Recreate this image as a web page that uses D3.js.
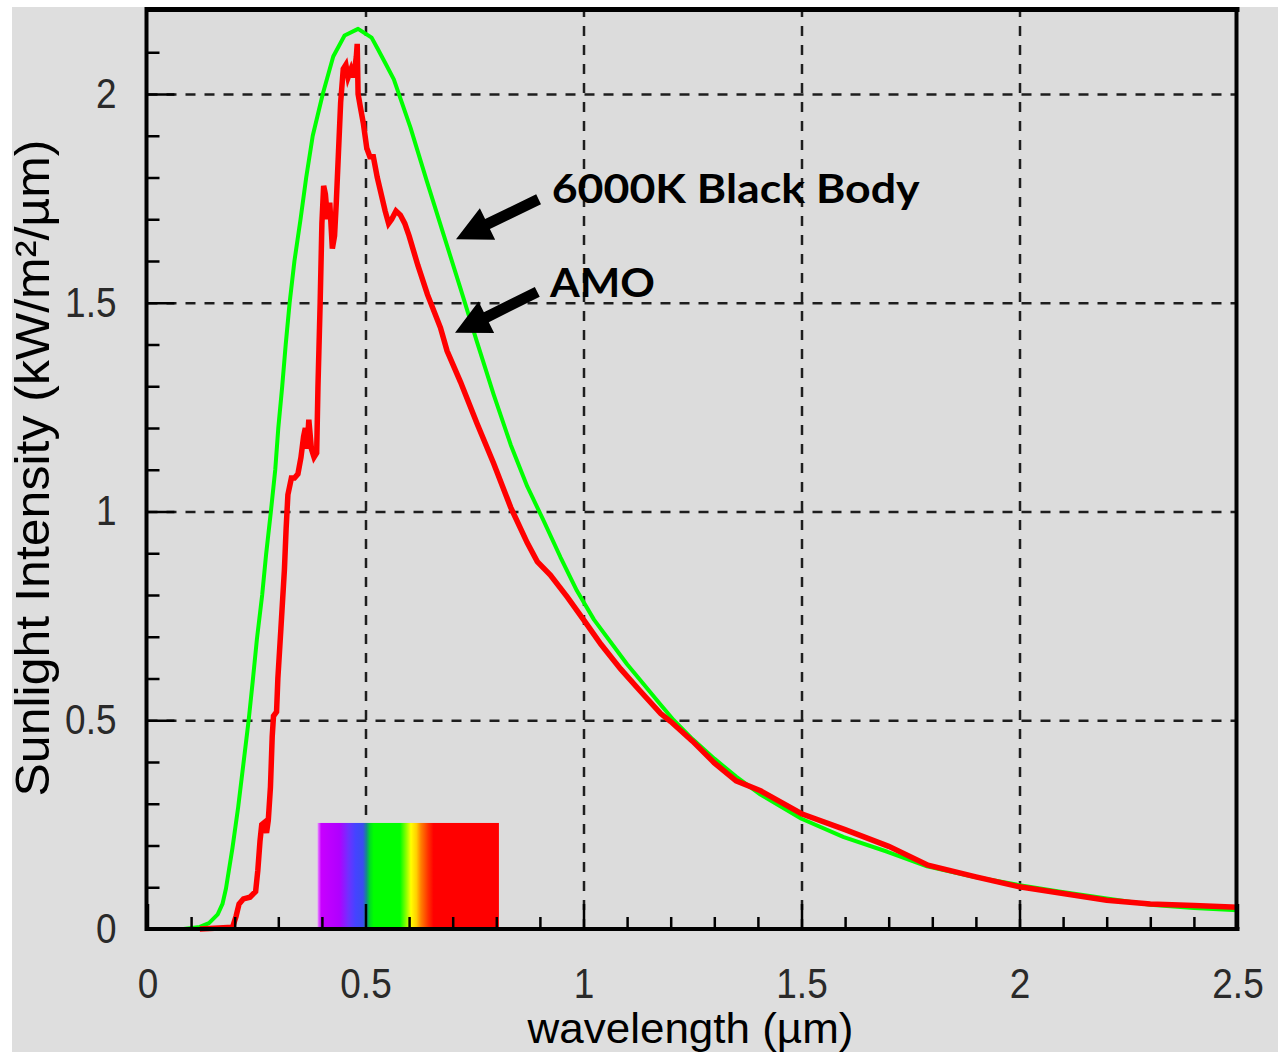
<!DOCTYPE html>
<html><head><meta charset="utf-8">
<script src="https://cdn.jsdelivr.net/npm/d3@7"></script>
<style>body{margin:0;background:#fff;} svg{display:block}</style>
</head><body><svg id="chart" width="1278" height="1052"></svg>
<script>
// ---- DATA ----
const blackBody6000K = [[0.083,0],[0.12,0.005],[0.141,0.014],[0.161,0.035],[0.172,0.06],[0.18,0.097],[0.195,0.195],[0.208,0.292],[0.22,0.396],[0.232,0.5],[0.241,0.59],[0.251,0.695],[0.263,0.8],[0.272,0.897],[0.283,1.0],[0.293,1.1],[0.3,1.2],[0.309,1.3],[0.317,1.4],[0.326,1.5],[0.337,1.6],[0.351,1.7],[0.364,1.8],[0.379,1.9],[0.402,2.0],[0.426,2.09],[0.452,2.14],[0.483,2.156],[0.514,2.135],[0.527,2.11],[0.545,2.075],[0.565,2.035],[0.603,1.92],[0.641,1.79],[0.68,1.66],[0.718,1.534],[0.756,1.405],[0.794,1.28],[0.833,1.16],[0.871,1.06],[0.909,0.977],[0.947,0.891],[0.985,0.81],[1.024,0.741],[1.1,0.634],[1.177,0.537],[1.207,0.5],[1.25,0.455],[1.3,0.408],[1.35,0.365],[1.406,0.322],[1.5,0.264],[1.597,0.22],[1.697,0.185],[1.788,0.15],[1.895,0.125],[2.0,0.105],[2.094,0.089],[2.2,0.073],[2.3,0.058],[2.4,0.05],[2.5,0.045]];
const am0Spectrum = [[0.12,0],[0.195,0.004],[0.203,0.03],[0.21,0.06],[0.22,0.072],[0.235,0.076],[0.248,0.09],[0.253,0.14],[0.258,0.21],[0.262,0.25],[0.268,0.255],[0.273,0.23],[0.277,0.26],[0.282,0.34],[0.286,0.46],[0.289,0.51],[0.296,0.52],[0.299,0.6],[0.306,0.72],[0.314,0.86],[0.318,0.96],[0.322,1.04],[0.33,1.08],[0.337,1.08],[0.345,1.09],[0.352,1.13],[0.358,1.18],[0.362,1.2],[0.366,1.15],[0.37,1.22],[0.376,1.15],[0.382,1.13],[0.388,1.14],[0.391,1.3],[0.396,1.5],[0.4,1.69],[0.404,1.78],[0.408,1.76],[0.413,1.7],[0.418,1.74],[0.424,1.63],[0.429,1.66],[0.433,1.74],[0.438,1.86],[0.443,1.98],[0.449,2.06],[0.455,2.07],[0.46,2.04],[0.467,2.06],[0.473,2.04],[0.479,2.09],[0.481,2.12],[0.483,2.0],[0.488,1.97],[0.495,1.93],[0.503,1.87],[0.51,1.85],[0.518,1.85],[0.527,1.8],[0.536,1.76],[0.545,1.72],[0.553,1.69],[0.56,1.7],[0.57,1.72],[0.58,1.71],[0.59,1.69],[0.6,1.66],[0.62,1.59],[0.642,1.52],[0.672,1.44],[0.687,1.385],[0.718,1.31],[0.756,1.21],[0.794,1.115],[0.833,1.01],[0.871,0.925],[0.894,0.88],[0.924,0.848],[0.963,0.795],[1.0,0.741],[1.04,0.682],[1.085,0.623],[1.13,0.57],[1.177,0.516],[1.2,0.497],[1.25,0.45],[1.3,0.398],[1.35,0.355],[1.406,0.331],[1.5,0.276],[1.6,0.238],[1.7,0.198],[1.79,0.153],[1.9,0.125],[2.0,0.101],[2.1,0.085],[2.2,0.069],[2.3,0.06],[2.4,0.056],[2.5,0.052]];
const xTickValues = [0, 0.5, 1, 1.5, 2, 2.5];
const xTickLabels = ["0", "0.5", "1", "1.5", "2", "2.5"];
const yTickValues = [0, 0.5, 1, 1.5, 2];
const yTickLabels = ["0", "0.5", "1", "1.5", "2"];
const xMinorTicks = d3.range(1, 25).map(i => i / 10).filter(v => Math.abs(v * 2 - Math.round(v * 2)) > 1e-6);
const yMinorTicks = d3.range(1, 22).map(i => i / 10).filter(v => Math.abs(v * 2 - Math.round(v * 2)) > 1e-6);
const visibleBand = [0.39, 0.806];   // wavelength range of the colour strip
const visibleBandHeight = 0.254;
const annotations = [
  {label: "6000K Black Body", tail: [0.897, 1.748], tip: [0.7076, 1.652], text: [0.927, 1.738], width: 368},
  {label: "AMO", tail: [0.894, 1.526], tip: [0.7053, 1.428], text: [0.923, 1.514], width: 105}
];
const xTitle = "wavelength (µm)";
const yTitle = "Sunlight Intensity (kW/m²/µm)";

// ---- LAYOUT ----
const L = 147.5, R = 1237.5, T = 10.5, B = 929;
const x = d3.scaleLinear().domain([0, 2.5]).range([L, R]);
const y = d3.scaleLinear().domain([0, 2.2]).range([B, T]);
const svg = d3.select("#chart");
const tickFont = "'Liberation Sans', Arial, sans-serif";

svg.append("rect").attr("x", 12).attr("y", 7).attr("width", 1266).attr("height", 1045).attr("fill", "#dedede");
svg.append("rect").attr("x", L).attr("y", T).attr("width", R - L).attr("height", B - T).attr("fill", "#dcdcdc");

// gridlines
const grid = svg.append("g");
grid.append("g").attr("transform", `translate(0,${B})`)
  .call(d3.axisBottom(x).tickValues([0.5, 1, 1.5, 2]).tickSize(-(B - T)).tickFormat(""))
  .call(g => g.select(".domain").remove());
grid.append("g").attr("transform", `translate(${L},0)`)
  .call(d3.axisLeft(y).tickValues([0.5, 1, 1.5, 2]).tickSize(-(R - L)).tickFormat(""))
  .call(g => g.select(".domain").remove());
grid.selectAll("line").attr("stroke", "#1e1e1e").attr("stroke-width", 2.5).attr("stroke-dasharray", "10,9");

// colour strip
const defs = svg.append("defs");
const grad = defs.append("linearGradient").attr("id", "spec").attr("x1", 0).attr("x2", 1).attr("y1", 0).attr("y2", 0);
[[0, "#e890ff"], [0.02, "#c800ff"], [0.12, "#b000ff"], [0.17, "#7030ff"], [0.21, "#4444ff"], [0.25, "#3a4cf0"],
 [0.27, "#158a8a"], [0.29, "#00e020"], [0.31, "#00ff00"], [0.455, "#00ff00"], [0.49, "#90ff00"], [0.515, "#ffff00"],
 [0.545, "#ffd000"], [0.57, "#ff8000"], [0.61, "#ff3000"], [0.64, "#ff0000"], [1, "#ff0000"]]
 .forEach(s => grad.append("stop").attr("offset", s[0]).attr("stop-color", s[1]));
svg.append("rect").attr("x", x(visibleBand[0])).attr("y", y(visibleBandHeight))
  .attr("width", x(visibleBand[1]) - x(visibleBand[0])).attr("height", y(0) - y(visibleBandHeight))
  .attr("fill", "url(#spec)");

// curves
const line = d3.line().x(d => x(d[0])).y(d => y(d[1]));
svg.append("path").datum(blackBody6000K).attr("d", line).attr("fill", "none")
  .attr("stroke", "#00ff00").attr("stroke-width", 4).attr("stroke-linejoin", "round");
svg.append("path").datum(am0Spectrum).attr("d", line).attr("fill", "none")
  .attr("stroke", "#ff0000").attr("stroke-width", 5.5).attr("stroke-linejoin", "miter");

// axes ticks
const ax = svg.append("g");
ax.append("g").attr("transform", `translate(0,${B})`)
  .call(d3.axisBottom(x).tickValues(xMinorTicks).tickSize(-12).tickFormat(""))
  .call(g => g.select(".domain").remove());
ax.append("g").attr("transform", `translate(${L},0)`)
  .call(d3.axisLeft(y).tickValues(yMinorTicks).tickSize(-12).tickFormat(""))
  .call(g => g.select(".domain").remove());
ax.append("g").attr("class", "lab").attr("transform", `translate(0,${B})`)
  .call(d3.axisBottom(x).tickValues(xTickValues).tickSize(-25).tickPadding(39).tickFormat((d, i) => xTickLabels[i]))
  .call(g => g.select(".domain").remove());
ax.append("g").attr("class", "lab").attr("transform", `translate(${L},0)`)
  .call(d3.axisLeft(y).tickValues(yTickValues).tickSize(-27).tickPadding(31).tickFormat((d, i) => yTickLabels[i]))
  .call(g => g.select(".domain").remove());
ax.selectAll("line").attr("stroke", "#000").attr("stroke-width", 2.5);
ax.selectAll(".lab text").attr("font-family", tickFont).attr("font-size", 42).attr("fill", "#2a2a2a")
  .each(function () { const w = this.getComputedTextLength(); this.setAttribute("textLength", w * 0.88); this.setAttribute("lengthAdjust", "spacingAndGlyphs"); });

// frame
const frame = svg.append("g").attr("stroke", "#000");
frame.append("line").attr("x1", L - 2).attr("x2", R + 2).attr("y1", 9.5).attr("y2", 9.5).attr("stroke-width", 5);
frame.append("line").attr("x1", L - 2).attr("x2", R + 2).attr("y1", B).attr("y2", B).attr("stroke-width", 4);
frame.append("line").attr("x1", L - 1).attr("x2", L - 1).attr("y1", 7).attr("y2", B + 2).attr("stroke-width", 4);
frame.append("line").attr("x1", R - 1).attr("x2", R - 1).attr("y1", 7).attr("y2", B + 2).attr("stroke-width", 4);

// axis titles
svg.append("text").attr("x", (L + R) / 2 - 2).attr("y", 1043).attr("text-anchor", "middle")
  .attr("font-family", tickFont).attr("font-size", 43).attr("fill", "#000")
  .attr("textLength", 326).attr("lengthAdjust", "spacingAndGlyphs").text(xTitle);
svg.append("text").attr("transform", `translate(49,${468}) rotate(-90)`).attr("text-anchor", "middle")
  .attr("font-family", tickFont).attr("font-size", 48).attr("fill", "#000")
  .attr("textLength", 657).attr("lengthAdjust", "spacingAndGlyphs").text(yTitle);

// annotations
const ann = svg.append("g");
annotations.forEach(a => {
  const tx = x(a.tail[0]), ty = y(a.tail[1]), px = x(a.tip[0]), py = y(a.tip[1]);
  const len = Math.hypot(px - tx, py - ty), ux = (px - tx) / len, uy = (py - ty) / len;
  const nx = -uy, ny = ux, w = 5.5, H = 17.5, HL = 35;
  const bx = px - ux * HL, by = py - uy * HL;
  const pts = [[tx + nx * w, ty + ny * w], [bx + nx * w, by + ny * w], [bx + nx * H, by + ny * H], [px, py],
               [bx - nx * H, by - ny * H], [bx - nx * w, by - ny * w], [tx - nx * w, ty - ny * w]];
  ann.append("polygon").attr("points", pts.map(p => p.join(",")).join(" ")).attr("fill", "#000");
  ann.append("text").attr("x", x(a.text[0])).attr("y", y(a.text[1]))
    .attr("font-family", "Lato, 'Open Sans', sans-serif").attr("font-weight", 700).attr("font-size", 40)
    .attr("fill", "#000").attr("textLength", a.width).attr("lengthAdjust", "spacingAndGlyphs").text(a.label);
});
</script></body></html>
